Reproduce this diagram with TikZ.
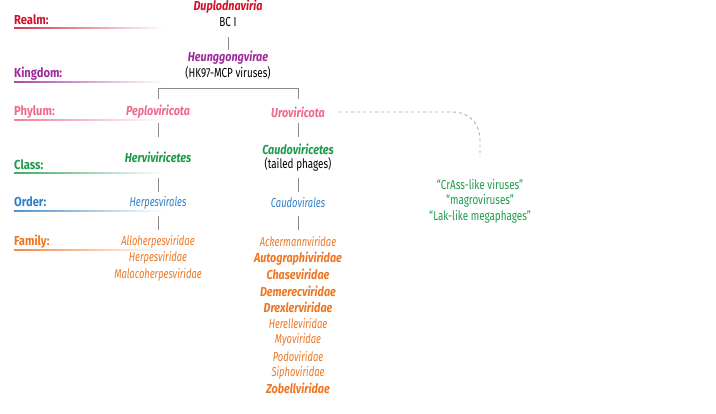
\documentclass[tikz,border=0pt]{standalone}
\usepackage{fontspec}
\setmainfont{Fira Sans}[FakeStretch=0.76]
\newfontfamily\frgfam{Fira Sans}[FakeStretch=0.76]
\newfontfamily\fitfam{Fira Sans}[FakeStretch=0.72]
\newfontfamily\fbdfam{Fira Sans}[FakeStretch=0.86]
\newfontfamily\fbifam{Fira Sans}[FakeStretch=0.83]
\usetikzlibrary{calc}
\definecolor{realmc}{HTML}{D0112B}
\definecolor{kingc}{HTML}{9E2A9C}
\definecolor{phylc}{HTML}{EE6A8C}
\definecolor{classc}{HTML}{1E9A4C}
\definecolor{orderc}{HTML}{2C7FC9}
\definecolor{famc}{HTML}{EE7623}
\definecolor{conn}{HTML}{8A8A8A}
\tikzset{
  txt/.style={inner sep=0pt, anchor=center, font=\frgfam\fontsize{13}{15}\selectfont},
  lab/.style={inner sep=0pt, anchor=west, font=\fbdfam\fontsize{13}{15}\selectfont\bfseries},
  it/.style={txt, font=\fitfam\fontsize{13}{15}\selectfont\itshape},
  bit/.style={txt, font=\fbifam\fontsize{13}{15}\selectfont\bfseries\itshape},
  link/.style={draw=conn, line width=0.9pt},
}
\newcommand{\uline}[2]{\shade[left color=#2!85, right color=white] (14,-#1) rectangle (165,-#1-1.0);}
\begin{document}
\begin{tikzpicture}[x=1pt,y=1pt]
\useasboundingbox (0,0) rectangle (716,-414);
% level labels
\node[lab, text=realmc] (lrealm) at (14,-20) {Realm:};
\node[lab, text=kingc] (lking) at (14,-74) {Kingdom:};
\node[lab, text=phylc] (lphyl) at (14,-112) {Phylum:};
\node[lab, text=classc] (lclass) at (14,-165) {Class:};
\node[lab, text=orderc] (lorder) at (14,-202) {Order:};
\node[lab, text=famc] (lfam) at (14,-242) {Family:};
\uline{28}{realmc}
\uline{81.5}{kingc}
\uline{119.5}{phylc}
\uline{173}{classc}
\uline{211}{orderc}
\uline{250}{famc}
% realm / kingdom
\node[bit, text=realmc] (dup) at (228,-7) {Duplodnaviria};
\node[txt] (bc) at (228,-22) {BC I};
\node[bit, text=kingc] (heung) at (228,-58) {Heunggongvirae};
\node[txt] (hk) at (228,-73) {(HK97-MCP viruses)};
\draw[link] ($(bc)+(0,-15)$) -- ($(heung)+(0,8)$);
% phyla
\node[bit, text=phylc] (peplo) at (158,-112) {Peploviricota};
\node[bit, text=phylc] (uro) at (298,-112) {Uroviricota};
\coordinate (brl) at (158,-88);
\coordinate (brr) at (298,-88);
\draw[link] ($(peplo)+(0,13)$) -- (brl) -- (brr) -- ($(uro)+(0,13)$);
% classes
\node[bit, text=classc] (herv) at (158,-157) {Herviviricetes};
\node[bit, text=classc] (caudc) at (298,-149) {Caudoviricetes};
\node[txt] (tailed) at (298,-164) {(tailed phages)};
\draw[link] ($(peplo)+(0,-11)$) -- ($(peplo)+(0,-25)$);
\draw[link] ($(uro)+(0,-11)$) -- ($(uro)+(0,-25)$);
% orders
\node[it, text=orderc] (herpo) at (158,-203) {Herpesvirales};
\node[it, text=orderc] (caudo) at (298,-203) {Caudovirales};
\draw[link] ($(herpo)+(0,25)$) -- ($(herpo)+(0,11)$);
\draw[link] ($(caudo)+(0,25)$) -- ($(caudo)+(0,11)$);
% families
\node[it, text=famc] (allo) at (158,-242) {Alloherpesviridae};
\draw[link] ($(herpo)+(0,-13)$) -- ($(allo)+(0,12)$);
\node[it, text=famc] (herpf) at (158,-258.3) {Herpesviridae};
\node[it, text=famc] (mala) at (158,-274.6) {Malacoherpesviridae};
\node[it, text=famc] (acker) at (298,-242) {Ackermannviridae};
\draw[link] ($(caudo)+(0,-13)$) -- ($(acker)+(0,12)$);
\node[bit, text=famc] (auto) at (298,-258.3) {Autographiviridae};
\node[bit, text=famc] (chase) at (298,-274.6) {Chaseviridae};
\node[bit, text=famc] (deme) at (298,-290.9) {Demerecviridae};
\node[bit, text=famc] (drex) at (298,-307.2) {Drexlerviridae};
\node[it, text=famc] (here) at (298,-323.5) {Herelleviridae};
\node[it, text=famc] (myo) at (298,-339.8) {Myoviridae};
\node[it, text=famc] (podo) at (298,-356.1) {Podoviridae};
\node[it, text=famc] (sipho) at (298,-372.4) {Siphoviridae};
\node[bit, text=famc] (zobe) at (298,-388.7) {Zobellviridae};
% unclassified groups
\node[txt, text=classc] (crass) at (480,-185) {“CrAss-like viruses”};
\node[txt, text=classc] (magro) at (480,-201) {“magroviruses”};
\node[txt, text=classc] (lak) at (480,-217) {“Lak-like megaphages”};
\coordinate (dend) at (480,-157);
\draw[conn!70, line width=0.9pt, dash pattern=on 3pt off 3pt]
  ($(uro.east)+(14,0)$) -- (452,-112) .. controls (471,-112) and (480,-125) .. (480,-140) -- (dend);
\end{tikzpicture}
\end{document}
